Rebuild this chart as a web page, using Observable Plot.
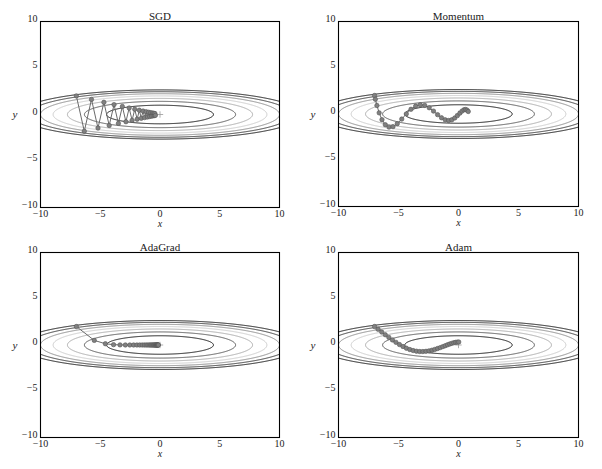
<!DOCTYPE html>
<html><head><meta charset="utf-8">
<script src="https://cdn.jsdelivr.net/npm/d3@7"></script>
<script src="https://cdn.jsdelivr.net/npm/@observablehq/plot@0.6"></script>
<style>
body{margin:0;background:#fff;}
#wrap{position:relative;width:602px;height:469px;overflow:hidden;}
.panel{position:absolute;}
</style></head><body><div id="wrap"></div>
<script>
// ---- data ----
const titles = ["SGD", "Momentum", "AdaGrad", "Adam"];

const sgdX = [-7, -6.335, -5.733, -5.189, -4.696, -4.250, -3.846, -3.481, -3.150, -2.851, -2.580, -2.335, -2.113, -1.912, -1.731, -1.566, -1.417, -1.283, -1.161, -1.051, -0.951, -0.860, -0.779, -0.705, -0.638, -0.577, -0.522, -0.473, -0.428, -0.387];
const sgdY = [2, -1.8, 1.62, -1.458, 1.312, -1.181, 1.063, -0.957, 0.861, -0.775, 0.697, -0.628, 0.565, -0.508, 0.458, -0.412, 0.371, -0.334, 0.300, -0.270, 0.243, -0.219, 0.197, -0.177, 0.160, -0.144, 0.129, -0.116, 0.105, -0.094];

const momX = [-7, -6.930, -6.798, -6.611, -6.376, -6.101, -5.793, -5.458, -5.101, -4.729, -4.348, -3.960, -3.572, -3.187, -2.809, -2.440, -2.084, -1.743, -1.418, -1.112, -0.825, -0.558, -0.313, -0.089, 0.113, 0.295, 0.455, 0.594, 0.714, 0.814];
const momY = [2, 1.6, 0.92, 0.124, -0.617, -1.161, -1.418, -1.366, -1.046, -0.548, 0.009, 0.509, 0.857, 0.998, 0.927, 0.676, 0.316, -0.071, -0.406, -0.626, -0.699, -0.624, -0.433, -0.174, 0.094, 0.316, 0.453, 0.486, 0.418, 0.273];

const adagradX = [-7, -5.5, -4.573, -3.888, -3.345, -2.899, -2.524, -2.206, -1.932, -1.695, -1.489, -1.310, -1.153, -1.015, -0.895, -0.788, -0.695, -0.613, -0.540, -0.477, -0.420, -0.371, -0.327, -0.289, -0.255, -0.225, -0.198, -0.175, -0.154, -0.136];
const adagradY = [2, 0.5, 0.136, 0.037, 0.010, 0.003, 0.001, 0, 0, 0, 0, 0, 0, 0, 0, 0, 0, 0, 0, 0, 0, 0, 0, 0, 0, 0, 0, 0, 0, 0];

const adamX = [-7, -6.7, -6.400, -6.102, -5.804, -5.507, -5.213, -4.920, -4.630, -4.343, -4.059, -3.780, -3.504, -3.234, -2.969, -2.710, -2.457, -2.211, -1.973, -1.743, -1.521, -1.309, -1.106, -0.913, -0.730, -0.557, -0.396, -0.246, -0.107, 0.020];
const adamY = [2, 1.7, 1.402, 1.109, 0.823, 0.548, 0.288, 0.049, -0.164, -0.346, -0.492, -0.600, -0.671, -0.706, -0.708, -0.682, -0.631, -0.561, -0.476, -0.380, -0.279, -0.176, -0.075, 0.021, 0.106, 0.180, 0.239, 0.283, 0.310, 0.322];

const contourLevels = [1, 2, 3, 4, 5, 6, 7];
const contourColors = ["#111111", "#555555", "#aaaaaa", "#cccccc", "#8a8a8a", "#333333", "#111111"];
const tickValues = [-10, -5, 0, 5, 10];
const origin = [{x: 0, y: 0}];

const series = [[sgdX, sgdY], [momX, momY], [adagradX, adagradY], [adamX, adamY]];

// surface whose level sets are drawn
const surface = (x, y) => x * x / 20 + y * y;

// ---- layout ----
const layout = [
  {left: 0,   top: 0,   ml: 40, mr: 22, mt: 21, mb: 27, w: 301, h: 234},
  {left: 300, top: 0,   ml: 38, mr: 24, mt: 21, mb: 28, w: 302, h: 234},
  {left: 0,   top: 231, ml: 40, mr: 22, mt: 21, mb: 28, w: 301, h: 234},
  {left: 300, top: 231, ml: 38, mr: 24, mt: 21, mb: 28, w: 302, h: 234}
];

const fmt = d => d < 0 ? "\u2212" + (-d) : String(d);
const wrap = document.getElementById("wrap");

titles.forEach((title, k) => {
  const [xs, ys] = series[k];
  const pts = xs.map((x, i) => ({x, y: ys[i]}));
  const L = layout[k];
  const marks = [];
  contourLevels.forEach((lv, i) => {
    marks.push(Plot.contour({
      x1: -10, x2: 10, y1: -10, y2: 10,
      value: surface, thresholds: [lv], pixelSize: 0.5,
      fill: "none", stroke: contourColors[i], strokeWidth: 1, clip: true
    }));
  });
  marks.push(Plot.dot(origin, {x: "x", y: "y", symbol: "plus", r: 2.2, stroke: "#999", strokeWidth: 0.8}));
  marks.push(Plot.line(pts, {x: "x", y: "y", stroke: "#6a6a6a", strokeWidth: 1}));
  marks.push(Plot.dot(pts, {x: "x", y: "y", r: 2.2, fill: "#808080", stroke: "#555", strokeWidth: 0.6}));
  marks.push(Plot.frame({stroke: "#000", strokeWidth: 1.1}));
  marks.push(Plot.axisX(tickValues, {tickFormat: fmt, tickSize: 0, tickPadding: 2, label: null, fontSize: 10}));
  marks.push(Plot.axisY(tickValues, {tickFormat: fmt, tickSize: 0, tickPadding: 3, label: null, fontSize: 10, dy: -3}));
  marks.push(Plot.text([title], {frameAnchor: "top", dy: -9, text: d => d, fontSize: 11, fill: "#222"}));
  marks.push(Plot.text(["x"], {frameAnchor: "bottom", dy: 19, text: d => d, fontSize: 10, fontStyle: "italic", fill: "#222"}));
  marks.push(Plot.text(["y"], {frameAnchor: "left", dx: -28, text: d => d, fontSize: 11, fontStyle: "italic", fill: "#222"}));

  const chart = Plot.plot({
    width: L.w, height: L.h,
    marginLeft: L.ml, marginRight: L.mr, marginTop: L.mt, marginBottom: L.mb,
    x: {domain: [-10, 10]},
    y: {domain: [-10, 10]},
    style: {fontFamily: "Liberation Serif, serif", fontSize: "10px", color: "#222", background: "transparent"},
    marks
  });
  const div = document.createElement("div");
  div.className = "panel";
  div.style.left = L.left + "px";
  div.style.top = L.top + "px";
  div.appendChild(chart);
  wrap.appendChild(div);
});
</script>
</body></html>
